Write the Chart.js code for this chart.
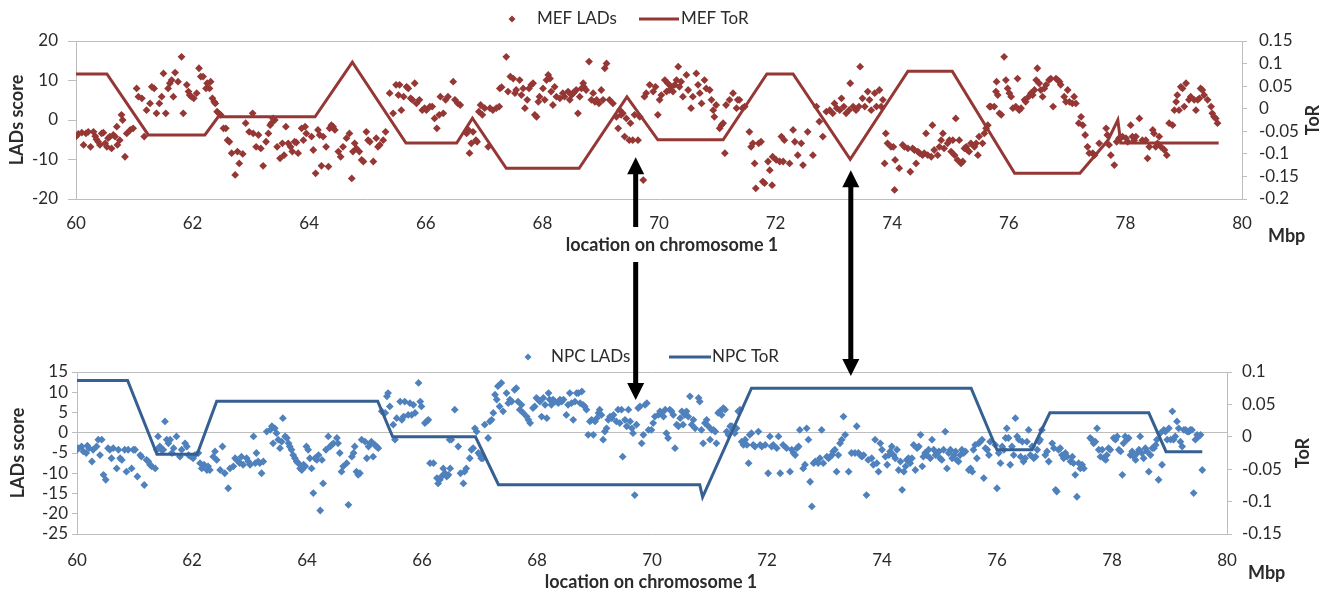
<!DOCTYPE html>
<html><head><meta charset="utf-8">
<script src="https://cdn.jsdelivr.net/npm/chart.js@4"></script>
<style>
html,body{margin:0;padding:0;background:#fff;}
#wrap{position:relative;width:1328px;height:592px;overflow:hidden;background:#fff;}
canvas{position:absolute;left:0;}
#top{top:0}
#bot{top:335px}
#over{top:0;pointer-events:none}
</style></head><body>
<div id="wrap">
<canvas id="top" width="1328" height="262"></canvas>
<canvas id="bot" width="1328" height="257"></canvas>
<canvas id="over" width="1328" height="592"></canvas>
</div>
<script>
// ---------- DATA ----------
const xTicks = [60,62,64,66,68,70,72,74,76,78,80];
const mefScoreTicks = [-20,-10,0,10,20];
const mefTorTicks = [-0.2,-0.15,-0.1,-0.05,0,0.05,0.1,0.15];
const npcScoreTicks = [-25,-20,-15,-10,-5,0,5,10,15];
const npcTorTicks = [-0.15,-0.1,-0.05,0,0.05,0.1];

// MEF LADs score [Mbp, score]
const mefLads = [
[60.00,-4.2],[60.04,-3.5],[60.10,-3.2],[60.13,-6.3],[60.17,-3.4],[60.21,-3.0],[60.25,-6.8],[60.30,-3.0],[60.33,-4.1],[60.35,-4.9],[60.38,-5.5],[60.41,-6.3],[60.44,-3.4],[60.47,-3.2],[60.50,-5.9],[60.53,-6.8],[60.55,-4.6],[60.58,-4.2],[60.61,-7.2],[60.64,-3.8],[60.67,-4.2],[60.70,-1.7],[60.71,-6.3],[60.75,-5.1],[60.78,1.3],[60.80,0],[60.84,-9.3],[60.87,-3.4],[60.93,-2.5],[60.98,-2.1],[61.04,8.0],[61.07,5.9],[61.13,5.5],[61.17,-4.2],[61.21,2.5],[61.27,4.2],[61.30,8.4],[61.34,8.0],[61.38,1.7],[61.43,4.2],[61.47,5.9],[61.50,11.8],[61.54,1.7],[61.58,8.0],[61.61,9.3],[61.64,10.1],[61.67,5.9],[61.70,12.0],[61.75,9.7],[61.81,16.0],[61.84,1.7],[61.90,8.9],[61.93,7.2],[61.95,6.3],[61.98,5.9],[62.02,5.5],[62.07,6.8],[62.11,13.1],[62.14,11.0],[62.18,11.0],[62.23,8.0],[62.25,9.3],[62.29,8.0],[62.31,9.7],[62.34,5.5],[62.37,4.6],[62.39,4.2],[62.42,2.1],[62.45,1.7],[62.48,1.3],[62.53,-2.1],[62.57,-2.1],[62.60,-5.1],[62.63,-5.5],[62.67,-8.4],[62.73,-13.9],[62.77,-8.0],[62.80,-11.0],[62.86,-8.6],[62.91,-0.8],[62.97,-3.0],[63.03,1.7],[63.04,-3.4],[63.09,-6.8],[63.13,-3.8],[63.17,-7.2],[63.21,-11.6],[63.26,-5.5],[63.30,-3.4],[63.33,-1.3],[63.35,-0.8],[63.38,0.4],[63.41,0],[63.45,-6.8],[63.50,-9.7],[63.54,-5.9],[63.57,-8.9],[63.60,-1.7],[63.64,-5.9],[63.68,-6.8],[63.71,-8.0],[63.75,-5.5],[63.78,-5.7],[63.81,-8.4],[63.87,-2.1],[63.90,-5.1],[63.93,-1.7],[63.95,-3.4],[64.04,-4.2],[64.07,-7.6],[64.11,-13.5],[64.15,-2.5],[64.18,-3.8],[64.21,-11.6],[64.24,-4.2],[64.29,-6.8],[64.33,-11.8],[64.35,-2.1],[64.38,-1.3],[64.41,-1.7],[64.44,-2.5],[64.50,-8.0],[64.54,-9.3],[64.58,-6.8],[64.64,-4.6],[64.69,-3.4],[64.73,-14.8],[64.75,-8.0],[64.78,-5.9],[64.81,-7.2],[64.86,-8.0],[64.90,-10.1],[64.93,-10.5],[64.98,-3.0],[65.01,-5.1],[65.04,-5.5],[65.10,-10.5],[65.15,-4.6],[65.18,-6.8],[65.21,-6.3],[65.27,-5.1],[65.31,-3.0],[65.38,6.8],[65.44,1.7],[65.49,8.9],[65.53,6.3],[65.55,8.9],[65.58,2.5],[65.62,5.9],[65.67,8.4],[65.70,8.0],[65.74,5.5],[65.77,5.1],[65.81,9.3],[65.84,4.2],[65.89,5.1],[65.94,2.5],[65.98,3.0],[66.01,2.5],[66.07,3.4],[66.11,3.4],[66.15,0.4],[66.19,-2.1],[66.23,1.3],[66.25,5.9],
[66.30,1.7],[66.34,5.1],[66.38,5.9],[66.47,9.7],[66.50,5.1],[66.55,4.2],[66.59,3.8],[66.70,-3.4],[66.73,-2.5],[66.75,-8.4],[66.78,-5.9],[66.81,-3.0],[66.86,-5.1],[66.88,-5.5],[66.91,2.1],[66.94,3.8],[66.97,1.3],[67.01,3.0],[67.07,-6.8],[67.10,3.0],[67.15,2.5],[67.21,3.0],[67.26,3.4],[67.27,8.0],[67.30,8.3],[67.38,16.0],[67.41,7.2],[67.45,11.0],[67.50,10.5],[67.53,6.8],[67.55,7.6],[67.61,10.1],[67.64,6.3],[67.67,8.0],[67.70,3.0],[67.74,5.1],[67.77,8.0],[67.81,8.9],[67.84,9.3],[67.87,1.3],[67.90,0.8],[67.93,4.6],[67.95,5.9],[68.01,8.0],[68.04,5.1],[68.07,10.1],[68.10,11.4],[68.13,10.5],[68.15,7.2],[68.18,3.8],[68.21,8.4],[68.24,5.9],[68.30,5.5],[68.35,6.8],[68.38,5.9],[68.44,7.2],[68.47,5.1],[68.50,6.3],[68.53,6.8],[68.55,7.2],[68.58,7.6],[68.61,1.7],[68.64,5.9],[68.67,8.0],[68.70,9.3],[68.71,8.4],[68.75,7.6],[68.80,14.8],[68.84,5.1],[68.87,6.8],[68.90,4.6],[68.93,5.1],[68.97,4.2],[69.01,7.6],[69.04,5.1],[69.07,13.1],[69.10,14.3],[69.15,5.1],[69.21,4.2],[69.27,0.8],[69.30,-2.1],[69.33,2.5],[69.35,1.3],[69.38,1.7],[69.41,-4.2],[69.44,0.4],[69.49,-5.1],[69.51,-0.8],[69.55,-5.1],[69.58,1.3],[69.64,-5.1],[69.67,0.8],[69.73,-15.2],[69.75,5.9],[69.78,6.8],[69.84,8.9],[69.90,7.2],[69.94,8.4],[69.98,1.3],[70.01,5.1],[70.04,6.3],[70.10,10.1],[70.13,7.2],[70.15,9.3],[70.18,7.6],[70.21,8.4],[70.24,7.2],[70.27,8.9],[70.30,10.1],[70.33,13.5],[70.35,8.4],[70.38,9.7],[70.41,5.9],[70.47,11.4],[70.50,7.6],[70.55,3.0],[70.58,5.9],[70.64,11.8],[70.67,8.9],[70.70,6.8],[70.73,4.2],[70.78,10.1],[70.81,8.0],[70.87,7.6],[70.90,5.1],[70.93,2.5],[70.95,0.8],[70.98,3.8],[71.04,-2.1],[71.07,-1.3],[71.10,-0.8],[71.13,-8.4],[71.15,3.8],[71.21,5.1],[71.27,6.8],[71.33,3.0],[71.35,5.1],[71.38,5.1],[71.43,3.0],[71.47,3.4],[71.55,-3.0],[71.58,-6.8],[71.61,-5.9],[71.64,-11.0],[71.66,-17.3],[71.71,-5.9],[71.75,-5.5],[71.78,-15.6],[71.81,-16.0],[71.87,-10.5],[71.90,-12.7],[71.94,-16.5],[71.95,-9.3],[72.01,-10.1],[72.07,-10.5],[72.10,-4.2],[72.13,-10.5],[72.15,-5.1],[72.24,-11.0],[72.30,-2.5],[72.33,-5.5],[72.38,-8.9],[72.44,-5.9],[72.47,-11.4],[72.55,-3.0],[72.64,-8.9],[72.70,3.4],[72.75,-0.4],[72.81,-4.2],[72.87,2.1],[72.93,2.5],[72.98,1.7],[73.01,4.2],[73.05,3.0],[73.10,2.5],[73.13,5.5],[73.17,3.4],[73.21,1.7],[73.26,2.5],[73.28,9.3],[73.33,3.4],[73.38,2.5],[73.43,3.4],[73.45,13.5],[73.49,5.5],[73.53,3.4],[73.58,7.2],[73.61,5.1],[73.64,2.5],[73.70,6.8],[73.73,3.4],
[73.78,7.6],[73.81,3.4],[73.84,5.1],[73.89,-3.4],[73.87,-11.0],[73.92,-5.9],[73.98,-6.8],[74.02,-6.8],[74.05,-10.1],[74.04,-17.7],[74.12,-12.2],[74.18,-6.3],[74.21,-6.8],[74.27,-7.2],[74.31,-13.1],[74.35,-7.2],[74.38,-7.6],[74.41,-11.0],[74.44,-8.0],[74.47,-8.4],[74.52,-8.9],[74.55,-8.4],[74.58,-3.4],[74.61,-8.9],[74.67,-9.3],[74.69,-1.3],[74.72,-7.6],[74.78,-8.9],[74.81,-6.8],[74.84,-5.1],[74.87,-3.4],[74.89,-7.2],[74.95,-5.9],[74.98,-5.1],[75.01,-8.0],[75.04,-5.1],[75.07,-8.9],[75.09,0.4],[75.12,-10.1],[75.15,-5.1],[75.18,-11.0],[75.21,-10.5],[75.24,-7.2],[75.27,-6.8],[75.29,-7.6],[75.32,-8.0],[75.35,-5.9],[75.41,-6.8],[75.44,-5.9],[75.47,-8.9],[75.49,-4.2],[75.55,-5.9],[75.58,-3.4],[75.61,-2.1],[75.64,-1.3],[75.67,3.4],[75.69,3.4],[75.75,3.4],[75.78,7.2],[75.79,9.7],[75.81,6.3],[75.84,1.7],[75.87,1.3],[75.92,16.0],[75.95,10.1],[75.98,8.0],[76.01,6.8],[76.04,5.9],[76.07,3.0],[76.12,3.4],[76.15,10.5],[76.18,2.5],[76.21,3.0],[76.27,5.1],[76.29,4.6],[76.34,5.9],[76.38,6.8],[76.41,6.3],[76.44,7.6],[76.47,10.1],[76.49,13.1],[76.52,9.3],[76.55,7.6],[76.58,5.9],[76.61,8.0],[76.64,8.9],[76.69,10.1],[76.72,10.5],[76.76,3.4],[76.81,10.5],[76.84,10.1],[76.87,9.7],[76.89,8.9],[76.95,5.9],[76.98,4.6],[77.01,7.6],[77.04,4.6],[77.09,4.2],[77.12,5.9],[77.15,4.2],[77.20,-0.8],[77.24,0.8],[77.27,-1.3],[77.31,-3.8],[77.35,-6.8],[77.38,-8.4],[77.44,-8.4],[77.47,-8.9],[77.55,-5.9],[77.67,-2.1],[77.69,-3.8],[77.72,-6.3],[77.75,-8.9],[77.81,-11.4],[77.85,-5.5],[77.89,-4.6],[77.95,-4.2],[78.01,-4.6],[78.04,-5.5],[78.09,-1.3],[78.12,-4.2],[78.15,-5.1],[78.18,-4.2],[78.24,0.4],[78.29,-5.1],[78.35,-5.1],[78.38,-9.7],[78.41,-6.8],[78.47,-2.5],[78.49,-3.4],[78.52,-6.8],[78.55,-5.9],[78.58,-4.2],[78.61,-6.8],[78.67,-7.6],[78.71,-8.9],[78.75,-0.8],[78.81,-1.3],[78.84,2.5],[78.87,4.6],[78.89,6.3],[78.92,2.5],[78.95,8.4],[78.98,8.0],[79.01,3.4],[79.04,9.3],[79.09,5.1],[79.12,5.9],[79.18,5.1],[79.21,2.5],[79.24,5.1],[79.27,5.5],[79.29,8.0],[79.32,7.6],[79.35,6.3],[79.41,5.1],[79.47,3.4],[79.49,1.7],[79.52,0.8],[79.55,0.4],[79.58,-0.8]
];

// MEF ToR
const mefTorPos = [60,60.53,61.24,62.21,62.44,64.10,64.74,65.66,66.53,66.80,67.38,68.63,69.45,69.98,71.10,71.85,72.30,73.28,74.27,75.03,76.10,77.22,77.70,77.87,77.92,79.60];
const mefTorVal = [0.077,0.077,-0.058,-0.058,-0.018,-0.018,0.103,-0.076,-0.076,-0.021,-0.132,-0.132,0.026,-0.069,-0.069,0.077,0.077,-0.112,0.083,0.083,-0.143,-0.143,-0.07,-0.025,-0.076,-0.076];

// NPC LADs score [Mbp, score]
const npcLads = [
[60.00,-4.2],[60.02,-3.8],[60.08,-3.4],[60.11,-4.6],[60.16,-5.0],[60.18,-3.2],[60.21,-3.8],[60.26,-7.1],[60.28,-4.2],[60.34,-3.4],[60.37,-1.7],[60.40,-5.5],[60.43,-1.7],[60.46,-10.4],[60.50,-11.6],[60.54,-3.8],[60.57,-4.2],[60.60,-6.3],[60.63,-3.8],[60.69,-8.8],[60.72,-4.2],[60.75,-6.3],[60.78,-6.7],[60.83,-4.2],[60.86,-9.6],[60.89,-4.2],[60.95,-8.8],[60.98,-4.2],[61.01,-4.2],[61.05,-10.8],[61.10,-5.5],[61.12,-5.9],[61.17,-12.9],[61.21,-6.7],[61.24,-7.1],[61.27,-7.9],[61.30,-8.3],[61.36,-8.8],[61.39,-4.2],[61.41,-0.9],[61.44,-3.4],[61.47,-4.2],[61.50,-4.2],[61.53,2.8],[61.56,-1.7],[61.59,-2.6],[61.62,-1.7],[61.65,-5.0],[61.68,-3.8],[61.73,-0.9],[61.79,-5.9],[61.82,-4.2],[61.88,-2.6],[61.91,-3.4],[61.94,-5.5],[61.98,-5.9],[62.02,-6.3],[62.05,-5.5],[62.11,-5.0],[62.14,-7.5],[62.17,-8.8],[62.21,-7.9],[62.26,-9.2],[62.28,-8.3],[62.31,-9.2],[62.37,-5.9],[62.40,-4.6],[62.43,-6.7],[62.49,-9.2],[62.53,-3.4],[62.57,-10.0],[62.63,-13.7],[62.66,-8.8],[62.72,-8.3],[62.75,-6.3],[62.78,-6.7],[62.81,-7.1],[62.83,-7.5],[62.86,-5.9],[62.89,-7.9],[62.95,-6.3],[62.98,-7.1],[63.01,-7.9],[63.07,-0.9],[63.10,-7.5],[63.12,-5.0],[63.15,-7.1],[63.18,-7.5],[63.21,-10.0],[63.24,-7.1],[63.30,0.3],[63.36,0.7],[63.39,1.6],[63.41,-2.6],[63.44,1.1],[63.47,-0.1],[63.50,-1.7],[63.53,-3.8],[63.56,-2.2],[63.58,3.6],[63.62,-0.9],[63.65,-1.3],[63.68,-2.6],[63.70,-3.4],[63.73,-4.2],[63.76,-5.5],[63.79,-6.3],[63.82,-7.1],[63.85,-7.5],[63.88,-8.8],[63.91,-9.2],[63.94,-7.9],[63.97,-8.3],[63.99,-3.4],[64.02,-4.2],[64.05,-6.3],[64.08,-8.8],[64.11,-14.9],[64.14,-6.3],[64.17,-6.7],[64.20,-5.5],[64.23,-19.2],[64.26,-6.7],[64.28,-12.5],[64.33,-4.2],[64.37,-0.9],[64.40,-3.4],[64.43,-3.0],[64.46,-2.6],[64.52,-1.3],[64.54,-2.6],[64.57,-5.0],[64.60,-9.6],[64.63,-8.3],[64.69,-7.5],[64.72,-17.8],[64.78,-5.9],[64.81,-5.0],[64.83,-3.4],[64.86,-9.6],[64.89,-10.4],[64.92,-10.0],[64.95,-1.7],[65.01,-2.2],[65.04,-6.3],[65.07,-3.4],[65.10,-2.6],[65.12,-2.2],[65.15,-5.9],[65.18,-3.0],[65.21,-3.4],[65.24,-3.8],[65.30,5.3],[65.36,4.9],[65.39,9.0],[65.41,9.8],[65.44,6.5],[65.50,2.0],[65.53,-1.7],[65.56,3.6],[65.62,7.7],[65.65,3.2],[65.68,4.0],[65.70,7.7],[65.76,4.4],[65.79,7.3],[65.82,4.4],[65.85,6.9],[65.88,4.9],[65.94,12.3],[65.97,7.7],[65.99,6.5],[66.05,2.4],[66.08,2.8],[66.11,3.2],[66.14,-7.5],[66.20,-7.5],[66.26,-11.2],[66.28,-12.5],[66.31,-11.6],[66.34,-10.8],[66.40,-10.0],[66.46,-10.4],[66.49,-8.8],[66.48,-1.7],
[66.37,-8.8],[66.43,-10.8],[66.51,-1.7],[66.57,5.7],[66.63,-3.4],[66.67,-10.0],[66.72,-12.5],[66.74,-9.6],[66.77,-8.8],[66.83,-6.3],[66.86,-4.2],[66.89,-3.8],[66.92,1.1],[66.95,0.3],[66.98,-5.0],[67.01,-5.5],[67.03,-6.3],[67.06,-6.3],[67.09,2.0],[67.15,-1.3],[67.18,2.8],[67.21,3.2],[67.24,4.9],[67.27,9.4],[67.30,8.2],[67.32,11.5],[67.35,6.5],[67.38,12.3],[67.41,5.3],[67.47,9.8],[67.50,7.3],[67.53,8.2],[67.56,7.7],[67.61,10.6],[67.64,11.0],[67.67,7.7],[67.70,5.7],[67.73,6.9],[67.76,4.9],[67.82,4.0],[67.85,3.2],[67.88,2.4],[67.93,6.1],[67.96,6.5],[67.99,8.6],[68.02,8.2],[68.05,7.7],[68.08,4.0],[68.11,8.6],[68.14,6.9],[68.17,3.6],[68.20,9.8],[68.22,8.2],[68.25,6.9],[68.28,8.2],[68.31,7.7],[68.37,7.3],[68.40,8.2],[68.43,7.7],[68.46,8.2],[68.51,4.4],[68.54,6.9],[68.57,9.8],[68.60,7.3],[68.63,3.2],[68.66,7.7],[68.69,9.8],[68.72,9.8],[68.75,7.3],[68.78,10.2],[68.80,6.9],[68.83,6.5],[68.86,5.7],[68.89,-0.5],[68.92,2.8],[68.95,3.2],[68.98,-0.5],[69.01,2.8],[69.04,3.6],[69.07,4.9],[69.09,5.7],[69.12,4.4],[69.15,-1.7],[69.18,0.3],[69.21,1.1],[69.24,3.2],[69.27,4.0],[69.30,3.6],[69.33,4.4],[69.38,2.8],[69.41,5.7],[69.44,2.4],[69.47,5.7],[69.49,-5.9],[69.53,3.2],[69.56,1.6],[69.59,5.7],[69.62,2.8],[69.65,1.1],[69.67,-0.1],[69.70,-15.4],[69.73,2.0],[69.76,6.1],[69.79,6.5],[69.82,-2.6],[69.85,-0.5],[69.88,6.9],[69.91,7.3],[69.94,0.7],[69.99,0.7],[70.02,2.4],[70.05,4.0],[70.11,4.4],[70.14,5.3],[70.17,4.9],[70.20,4.0],[70.23,5.7],[70.25,-0.1],[70.28,-1.3],[70.31,5.7],[70.34,5.3],[70.37,4.4],[70.40,-3.8],[70.43,2.0],[70.46,1.6],[70.49,3.6],[70.52,5.3],[70.54,2.0],[70.57,4.4],[70.60,5.3],[70.63,4.0],[70.66,9.0],[70.69,2.0],[70.72,3.2],[70.75,1.1],[70.81,8.6],[70.83,7.7],[70.86,0.7],[70.89,-2.6],[70.92,2.4],[70.95,3.2],[70.98,1.6],[71.01,-1.7],[71.04,0.7],[71.07,0.7],[71.10,0.3],[71.12,-2.6],[71.15,4.9],[71.18,5.3],[71.21,4.4],[71.24,6.1],[71.27,5.7],[71.30,0.3],[71.33,-0.5],[71.36,1.6],[71.39,1.6],[71.41,0.7],[71.44,-0.1],[71.47,1.1],[71.50,5.3],[71.53,5.7],[71.56,-2.2],[71.59,-3.0],[71.62,-1.7],[71.65,-3.0],[71.68,-7.5],[71.70,-0.5],[71.73,-0.1],[71.76,-3.0],[71.79,-3.4],[71.85,0.3],[71.88,-3.0],[71.91,-3.4],[71.97,-3.0],[72.02,-10.0],[72.05,-0.9],[72.08,-3.4],[72.11,-3.0],[72.17,-3.8],[72.20,-0.9],[72.23,-10.0],[72.28,-3.0],[72.34,-3.8],[72.40,-9.6],[72.43,-4.2],[72.46,-5.0],[72.49,-5.5],[72.52,-3.8],[72.55,-3.4],[72.57,0.7],[72.63,-8.8],[72.66,-7.9],[72.69,1.1],[72.72,-1.7],[72.75,-12.1],[72.78,-18.2],[72.81,-7.5],[72.84,-7.1],[72.89,-7.5],[72.92,-6.3],[72.95,0.7],[72.98,-7.5],[73.04,-5.9],[73.07,-6.3],[73.10,-5.9],[73.13,-5.5],[73.15,-4.6],[73.18,-4.2],[73.21,-9.6],[73.24,-5.5],[73.27,-2.6],[73.30,-1.7],[73.33,4.0],[73.36,-0.5],[73.42,-9.6],[73.47,-5.0],[73.53,-5.0],[73.56,1.6],[73.59,-5.0],[73.62,-5.5],[73.65,-5.9],[73.68,-5.5],[73.73,-15.4],[73.76,-6.7],[73.82,-6.3],[73.85,-7.9],[73.88,-1.7],[73.91,-7.5],[73.94,-9.6],
[73.97,-2.6],[74.00,-4.2],[74.06,-5.9],[74.09,-7.9],[74.12,-5.5],[74.14,-4.6],[74.17,-3.4],[74.20,-5.5],[74.23,-6.3],[74.26,-4.2],[74.29,-9.2],[74.32,-7.1],[74.35,-14.1],[74.38,-9.6],[74.41,-8.3],[74.43,-6.7],[74.46,-6.3],[74.49,-7.5],[74.52,-6.3],[74.55,-3.0],[74.58,-9.2],[74.61,-3.8],[74.64,-3.4],[74.67,-0.5],[74.70,-8.3],[74.72,-5.9],[74.75,-5.0],[74.78,-5.5],[74.81,-4.2],[74.84,-6.3],[74.87,-1.7],[74.90,-4.2],[74.93,-5.5],[74.96,-5.0],[74.99,-4.6],[75.01,-6.3],[75.04,-6.7],[75.07,-4.2],[75.10,0.3],[75.13,-8.8],[75.16,-5.0],[75.19,-4.2],[75.22,-6.3],[75.25,-5.5],[75.28,-4.6],[75.30,-6.7],[75.33,-7.1],[75.36,-5.5],[75.39,-4.2],[75.42,-5.0],[75.45,-4.6],[75.51,-9.2],[75.54,-8.8],[75.57,-9.6],[75.59,-4.2],[75.62,-3.0],[75.65,-6.3],[75.68,-2.6],[75.71,-2.2],[75.74,-1.7],[75.77,-11.2],[75.80,-3.8],[75.83,-4.2],[75.86,-5.5],[75.88,-2.2],[75.97,-3.0],[76.00,-13.7],[76.03,-5.0],[76.06,-7.5],[76.09,-3.4],[76.12,-4.2],[76.15,-1.3],[76.17,1.1],[76.20,-1.3],[76.23,-7.9],[76.26,-3.4],[76.29,-5.5],[76.32,3.6],[76.35,-0.9],[76.38,-1.7],[76.41,-5.9],[76.44,-2.2],[76.46,-7.1],[76.49,-6.3],[76.52,-2.2],[76.55,0.7],[76.58,-5.5],[76.61,-3.4],[76.64,-6.3],[76.67,-5.9],[76.70,-4.2],[76.73,-2.2],[76.75,-1.7],[76.78,0.7],[76.84,-5.5],[76.87,-4.6],[76.90,-7.1],[76.96,-2.6],[76.99,-3.8],[77.02,-14.1],[77.04,-14.5],[77.07,-4.2],[77.10,-3.8],[77.13,-5.5],[77.16,-6.3],[77.19,-5.0],[77.22,-5.9],[77.28,-7.1],[77.31,-5.9],[77.33,-7.5],[77.36,-10.4],[77.39,-15.8],[77.42,-7.5],[77.45,-8.8],[77.48,-7.9],[77.51,-8.8],[77.62,-1.3],[77.65,-1.7],[77.68,-2.6],[77.71,-2.2],[77.74,1.1],[77.77,-4.2],[77.80,-5.9],[77.83,-4.2],[77.86,-6.3],[77.89,-6.7],[77.91,-5.5],[77.94,-3.8],[77.97,-4.2],[78.03,-1.3],[78.06,-1.7],[78.09,-0.9],[78.12,-4.2],[78.15,-4.6],[78.18,-10.4],[78.20,-2.6],[78.23,-0.9],[78.26,-1.7],[78.29,-1.3],[78.32,-5.5],[78.35,-4.6],[78.38,-5.9],[78.41,-6.7],[78.44,-5.0],[78.47,-4.2],[78.49,-0.9],[78.52,-5.0],[78.55,-6.3],[78.58,-3.8],[78.61,-4.6],[78.64,-9.6],[78.67,-5.5],[78.70,-3.8],[78.73,-3.8],[78.76,-3.0],[78.78,-1.7],[78.81,-11.6],[78.84,-0.1],[78.87,-7.9],[78.90,0.7],[78.93,0.3],[78.96,-1.7],[78.99,1.1],[79.02,-1.7],[79.05,5.3],[79.07,-1.7],[79.10,-0.9],[79.13,2.8],[79.16,1.1],[79.19,-2.2],[79.22,-3.4],[79.25,0.7],[79.28,0.7],[79.31,0.3],[79.34,0.3],[79.36,0.7],[79.39,0.7],[79.42,-14.9],[79.45,-1.7],[79.48,-0.5],[79.51,-0.9],[79.54,-0.5],[79.57,-9.2]
];

// NPC ToR
const npcTorPos = [60,60.88,61.39,62.09,62.43,65.23,65.49,66.93,67.33,70.83,70.88,71.73,75.55,76.00,76.61,76.92,78.64,78.94,79.57];
const npcTorVal = [0.087,0.087,-0.027,-0.027,0.055,0.055,0.0,0.0,-0.074,-0.074,-0.093,0.075,0.075,-0.02,-0.02,0.037,0.037,-0.023,-0.023];

// arrows linking the two panels (Mbp position, score on top panel, score on bottom panel)
const arrowPos = [69.6, 73.29];
const arrowTopScore = [-9.4, -12.7];
const arrowBottomScore = [8.1, 14.0];

// ---------- STYLE ----------
const GRID = '#bdbdbd';
const TXT = '#2b2b2b';
const FONT = 'Lato, "Open Sans", sans-serif';
const fmt = v => String(+Number(v).toFixed(2));

function decor(o){
  return {
    id:'decor',
    afterDraw(chart){
      const c = chart.ctx, a = chart.chartArea;
      c.save();
      const L = o.legend;
      c.fillStyle = o.ptColor;
      c.beginPath();
      c.moveTo(L.mx, L.y-3.5); c.lineTo(L.mx+3.5, L.y); c.lineTo(L.mx, L.y+3.5); c.lineTo(L.mx-3.5, L.y); c.closePath(); c.fill();
      c.font = '17px ' + FONT; c.fillStyle = TXT; c.textBaseline = 'middle'; c.textAlign = 'left';
      c.fillText(o.ptsLabel, L.tx1, L.y);
      c.strokeStyle = o.lineColor; c.lineWidth = 3;
      c.beginPath(); c.moveTo(L.lx1, L.y); c.lineTo(L.lx2, L.y); c.stroke();
      c.fillText(o.lineLabel, L.tx2, L.y);
      c.font = 'bold 18px ' + FONT;
      const midY = (a.top + a.bottom) / 2;
      c.save(); c.translate(o.leftTitleX, midY); c.rotate(-Math.PI/2);
      c.textAlign = 'center'; c.textBaseline = 'middle'; c.fillText('LADs score', 0, 0); c.restore();
      c.save(); c.translate(o.rightTitleX, midY); c.rotate(-Math.PI/2);
      c.textAlign = 'center'; c.textBaseline = 'middle'; c.fillText('ToR', 0, 0); c.restore();
      c.textAlign = 'center'; c.textBaseline = 'alphabetic';
      const t = 'location on chromosome 1';
      c.fillText(t, o.xTitleX, o.xTitleY);
      const w = c.measureText(t).width;
      chart.$titleBox = {x1:o.xTitleX - w/2 - 4, x2:o.xTitleX + w/2 + 4, y1:o.xTitleY - 24, y2:o.xTitleY + 11};
      c.textAlign = 'left';
      c.fillText('Mbp', o.mbpX, o.mbpY);
      c.restore();
    }
  };
}

function makeChart(id, o){
  return new Chart(document.getElementById(id), {
    type:'scatter',
    data:{datasets:[
      {label:o.ptsLabel, data:o.pts.map(p=>({x:p[0], y:p[1]})), yAxisID:'y',
       pointStyle:'rectRot', pointRadius:3.9, pointHoverRadius:3.9, backgroundColor:o.ptColor,
       borderColor:o.ptColor, borderWidth:0, showLine:false, order:2},
      {label:o.lineLabel, data:o.lx.map((x,i)=>({x:x, y:o.ly[i]})), yAxisID:'y1',
       showLine:true, pointRadius:0, pointHoverRadius:0, borderColor:o.lineColor, borderWidth:3,
       fill:false, tension:0, order:1, borderJoinStyle:'miter'}
    ]},
    options:{
      responsive:false, animation:false, devicePixelRatio:1, events:[],
      layout:{padding:{top:o.padTop, left:0, right:0, bottom:0}},
      plugins:{legend:{display:false}, tooltip:{enabled:false}, title:{display:false}},
      scales:{
        x:{type:'linear', min:60, max:80,
           afterBuildTicks:s=>{ s.ticks = xTicks.map(v=>({value:v})); },
           afterFit:s=>{ s.height = o.xH; },
           grid:{display:false, drawTicks:false},
           border:{display:true, color:GRID, width:1},
           ticks:{font:{family:FONT, size:17}, color:TXT, padding:o.xPad, maxRotation:0, autoSkip:false, callback:fmt}},
        y:{type:'linear', position:'left', min:o.yTicks[0], max:o.yTicks[o.yTicks.length-1],
           afterBuildTicks:s=>{ s.ticks = o.yTicks.map(v=>({value:v})); },
           afterFit:s=>{ s.width = o.yW; },
           grid:{color:ctx=>(ctx.tick && o.gridVals.includes(ctx.tick.value)) ? GRID : 'rgba(0,0,0,0)',
                 tickColor:GRID, tickLength:o.yTl, lineWidth:1},
           border:{display:true, color:GRID, width:1},
           ticks:{font:{family:FONT, size:17}, color:TXT, padding:o.yPad, autoSkip:false, callback:fmt}},
        y1:{type:'linear', position:'right', min:o.y1Ticks[0], max:o.y1Ticks[o.y1Ticks.length-1],
           afterBuildTicks:s=>{ s.ticks = o.y1Ticks.map(v=>({value:v})); },
           afterFit:s=>{ s.width = o.y1W; },
           grid:{drawOnChartArea:false, tickColor:GRID, tickLength:5, lineWidth:1},
           border:{display:true, color:GRID, width:1},
           ticks:{font:{family:FONT, size:17}, color:TXT, padding:o.y1Pad, autoSkip:false, callback:fmt}}
      }
    },
    plugins:[decor(o)]
  });
}

const topChart = makeChart('top', {
  pts:mefLads, lx:mefTorPos, ly:mefTorVal, ptsLabel:'MEF LADs', lineLabel:'MEF ToR',
  ptColor:'#953735', lineColor:'#953735',
  yTicks:mefScoreTicks, y1Ticks:mefTorTicks, gridVals:[20],
  padTop:41, xH:63, yW:76, y1W:86, xPad:14, yTl:8, yPad:10, y1Pad:12,
  legend:{y:19, mx:512, tx1:537, lx1:639, lx2:679, tx2:681},
  leftTitleX:17, rightTitleX:1313, xTitleX:672, xTitleY:251, mbpX:1268, mbpY:242
});

const botChart = makeChart('bot', {
  pts:npcLads, lx:npcTorPos, ly:npcTorVal, ptsLabel:'NPC LADs', lineLabel:'NPC ToR',
  ptColor:'#4f81bd', lineColor:'#376092',
  yTicks:npcScoreTicks, y1Ticks:npcTorTicks, gridVals:[15,0],
  padTop:37, xH:58, yW:77, y1W:101, xPad:16, yTl:5, yPad:4, y1Pad:10,
  legend:{y:22, mx:528, tx1:551, lx1:669, lx2:711, tx2:712},
  leftTitleX:18, rightTitleX:1303, xTitleX:651, xTitleY:253, mbpX:1248, mbpY:244
});

// ---------- ARROWS ----------
(function drawArrows(){
  const o = document.getElementById('over').getContext('2d');
  const botOff = 335;
  const tb = topChart.$titleBox;
  o.fillStyle = '#000';
  arrowPos.forEach((v,i)=>{
    const x = topChart.scales.x.getPixelForValue(v);
    const y1 = topChart.scales.y.getPixelForValue(arrowTopScore[i]);
    const y2 = botChart.scales.y.getPixelForValue(arrowBottomScore[i]) + botOff;
    const hl = 17, hw = 8.5, sw = 2.5;
    o.beginPath(); o.moveTo(x, y1); o.lineTo(x+hw, y1+hl); o.lineTo(x-hw, y1+hl); o.closePath(); o.fill();
    o.beginPath(); o.moveTo(x, y2); o.lineTo(x+hw, y2-hl); o.lineTo(x-hw, y2-hl); o.closePath(); o.fill();
    const s1 = y1 + hl - 1, s2 = y2 - hl + 1;
    if (tb && x > tb.x1 && x < tb.x2) {
      o.fillRect(x-sw, s1, 2*sw, tb.y1 - s1);
      o.fillRect(x-sw, tb.y2, 2*sw, s2 - tb.y2);
    } else {
      o.fillRect(x-sw, s1, 2*sw, s2 - s1);
    }
  });
})();
</script>
</body></html>
